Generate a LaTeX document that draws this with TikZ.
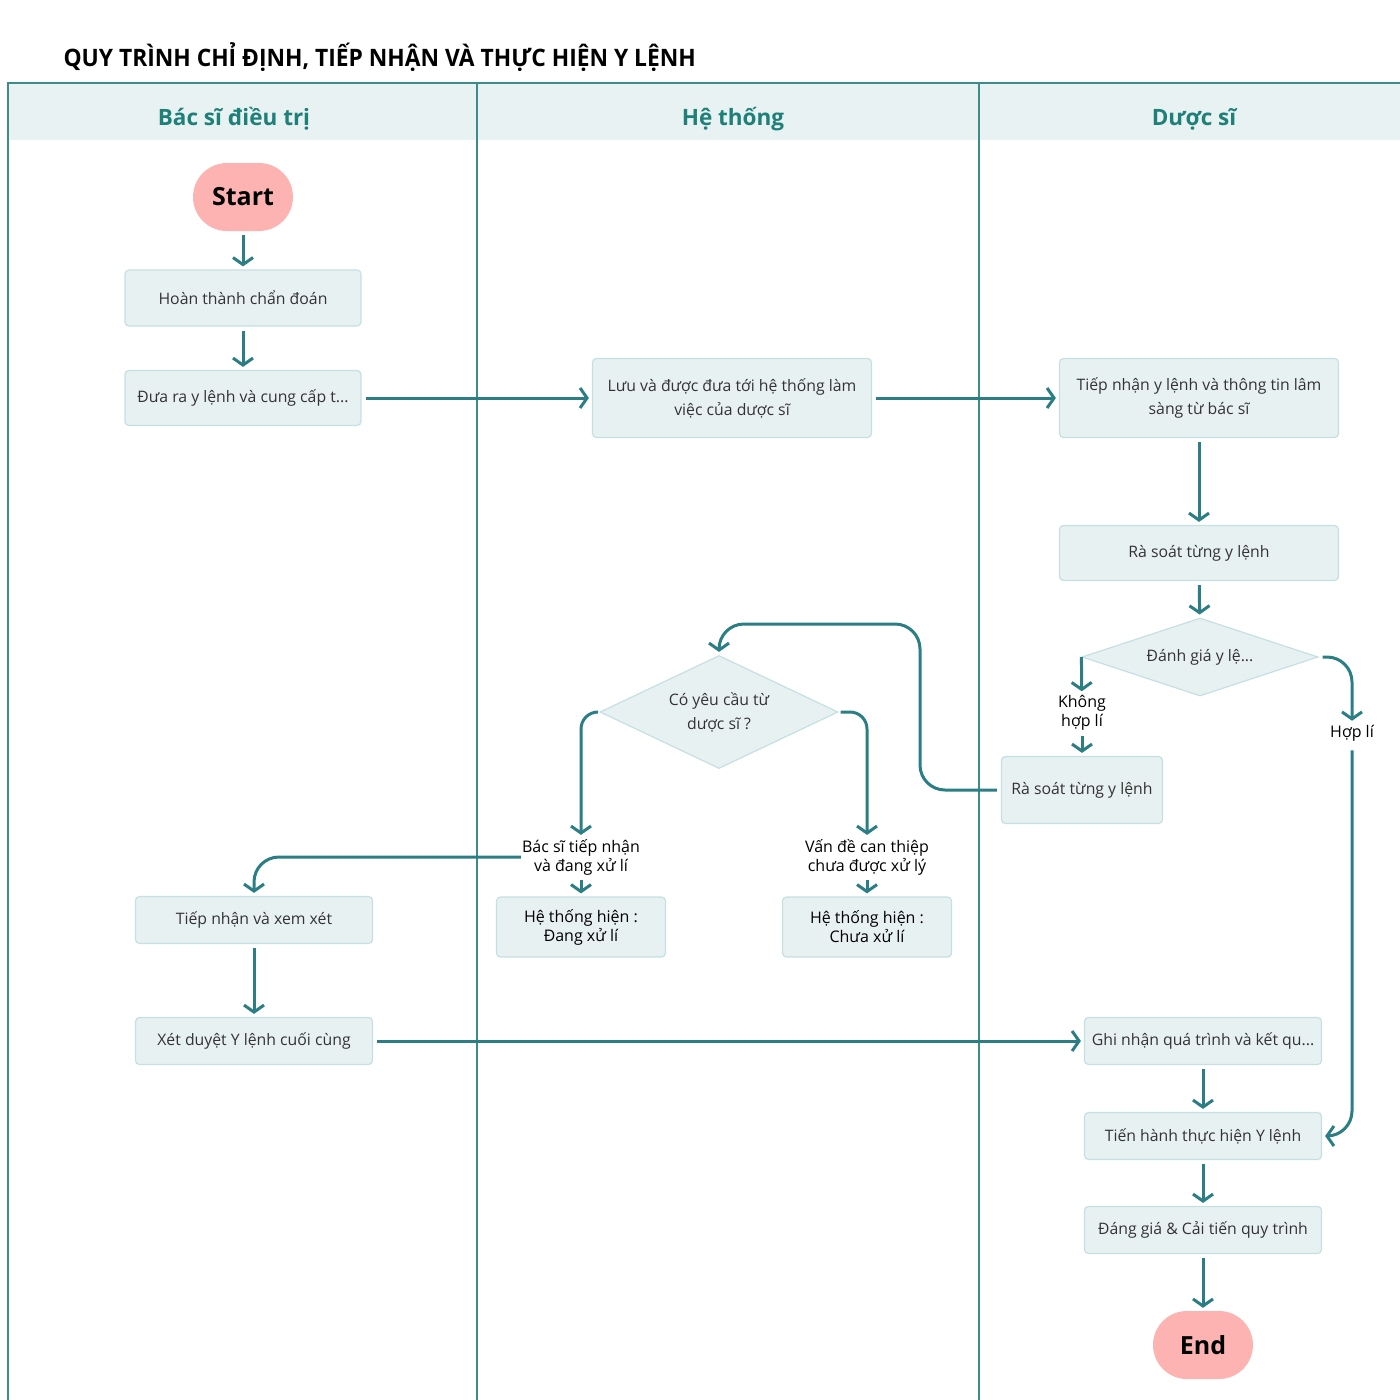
\documentclass[tikz,border=0pt]{standalone}
\usepackage{fontspec}
\setmainfont{Open Sans}
\newfontfamily\condfont[FakeStretch=0.95]{Open Sans}
\usetikzlibrary{shapes.geometric, arrows.meta}
\definecolor{flow}{RGB}{43,126,131}
\definecolor{lane}{RGB}{62,139,139}
\definecolor{headfill}{RGB}{232,242,242}
\definecolor{boxfill}{RGB}{232,241,242}
\definecolor{boxline}{RGB}{197,224,226}
\definecolor{headtext}{RGB}{31,127,121}
\definecolor{termfill}{RGB}{253,179,177}
\definecolor{boxtext}{RGB}{51,51,51}

\begin{document}
\begin{tikzpicture}[x=1pt,y=-1pt,
	box/.style={rectangle,draw=boxline,line width=1.2,fill=boxfill,rounded corners=4,text=boxtext,align=center,inner sep=0,font=\fontsize{15.8}{24}\selectfont},
	term/.style={rectangle,fill=termfill,rounded corners=34,minimum width=100,minimum height=68,inner sep=0,font=\fontsize{25}{30}\selectfont\bfseries},
	choice/.style={diamond,draw=boxline,line width=1.2,fill=boxfill,text=boxtext,align=center,inner sep=0,font=\fontsize{15.8}{24}\selectfont},
	tag/.style={align=center,inner sep=1,font=\fontsize{16}{19}\selectfont},
	lanehead/.style={text=headtext,font=\fontsize{22.5}{26}\selectfont\bfseries},
	arr/.style={draw=flow,line width=3,-{Straight Barb[length=7pt,width=20pt]},shorten >=3,shorten <=4}]
	\useasboundingbox (0,0) rectangle (1400,1400);
	\fill [white] (0,0) rectangle (1400,1400);
	\fill [headfill] (8,83) rectangle (1400,140);
	\draw [lane,line width=1.5] (1400,83) -- (8,83) -- (8,1400);
	\draw [lane,line width=1.5] (477,83) -- (477,1400);
	\draw [lane,line width=1.5] (979,83) -- (979,1400);
	\node (title) [anchor=west,font=\condfont\fontsize{24}{28}\selectfont\bfseries] at (60,57) {QUY TRÌNH CHỈ ĐỊNH, TIẾP NHẬN VÀ THỰC HIỆN Y LỆNH};
	\node (hdoc) [lanehead] at (234,119) {Bác sĩ điều trị};
	\node (hsys) [lanehead] at (733,119) {Hệ thống};
	\node (hphar) [lanehead] at (1194,119) {Dược sĩ};

	\node (start) [term] at (243,197) {Start};
	\node (diag) [box,minimum width=236,minimum height=56] at (243,298) {Hoàn thành chẩn đoán};
	\node (order) [box,minimum width=236,minimum height=55] at (243,398) {Đưa ra y lệnh và cung cấp t...};
	\node (save) [box,minimum width=279,minimum height=79] at (732,398) {Lưu và được đưa tới hệ thống làm\\việc của dược sĩ};
	\node (recv) [box,minimum width=279,minimum height=79] at (1199,398) {Tiếp nhận y lệnh và thông tin lâm\\sàng từ bác sĩ};
	\node (review) [box,minimum width=279,minimum height=55] at (1199,553) {Rà soát từng y lệnh};
	\node (assess) [choice,aspect=3,minimum width=236,minimum height=78] at (1200,657) {Đánh giá y lệ...};
	\node (no) [tag] at (1082,713) {Không\\hợp lí};
	\node (yes) [tag] at (1352,733) {Hợp lí};
	\node (recheck) [box,minimum width=161,minimum height=67] at (1082,790) {Rà soát từng y lệnh};
	\node (ask) [choice,aspect=2.1,minimum width=238,minimum height=113] at (719,712) {Có yêu cầu từ\\dược sĩ ?};
	\node (acc) [tag] at (581,857) {Bác sĩ tiếp nhận\\và đang xử lí};
	\node (pend) [tag] at (867,857) {Vấn đề can thiệp\\chưa được xử lý};
	\node (sysA) [box,text=black,font=\fontsize{16}{19}\selectfont,minimum width=169,minimum height=60] at (581,927) {Hệ thống hiện :\\Đang xử lí};
	\node (sysB) [box,text=black,font=\fontsize{16}{19}\selectfont,minimum width=169,minimum height=60] at (867,927) {Hệ thống hiện :\\Chưa xử lí};
	\node (consider) [box,minimum width=237,minimum height=47] at (254,920) {Tiếp nhận và xem xét};
	\node (final) [box,minimum width=237,minimum height=47] at (254,1041) {Xét duyệt Y lệnh cuối cùng};
	\node (log) [box,minimum width=237,minimum height=47] at (1203,1041) {Ghi nhận quá trình và kết qu...};
	\node (exec) [box,minimum width=237,minimum height=47] at (1203,1136) {Tiến hành thực hiện Y lệnh};
	\node (improve) [box,minimum width=237,minimum height=47] at (1203,1230) {Đáng giá \& Cải tiến quy trình};
	\node (end) [term] at (1203,1345) {End};
	\coordinate (loop) at (920,624);

	\draw [arr] (start) -- (diag);
	\draw [arr] (diag) -- (order);
	\draw [arr] (order) -- (save);
	\draw [arr] (save) -- (recv);
	\draw [arr] (recv) -- (review);
	\draw [arr] (review) -- (assess);
	\draw [arr,shorten <=0] (assess.west) -- (no);
	\draw [arr] (no) -- (recheck);
	\draw [arr,rounded corners=25] (assess.east) -| (yes);
	\draw [arr,rounded corners=25,shorten <=8] (yes) |- (exec);
	\draw [arr,rounded corners=25] (recheck.west) -| (loop) -| (ask.north);
	\draw [arr,rounded corners=17,shorten <=2] (ask.west) -| (acc);
	\draw [arr] (acc) -- (sysA);
	\draw [arr,rounded corners=25,shorten <=0] (acc.west) -| (consider);
	\draw [arr,rounded corners=17,shorten <=2] (ask.east) -| (pend);
	\draw [arr] (pend) -- (sysB);
	\draw [arr] (consider) -- (final);
	\draw [arr] (final) -- (log);
	\draw [arr] (log) -- (exec);
	\draw [arr] (exec) -- (improve);
	\draw [arr] (improve) -- (end);
\end{tikzpicture}
\end{document}
